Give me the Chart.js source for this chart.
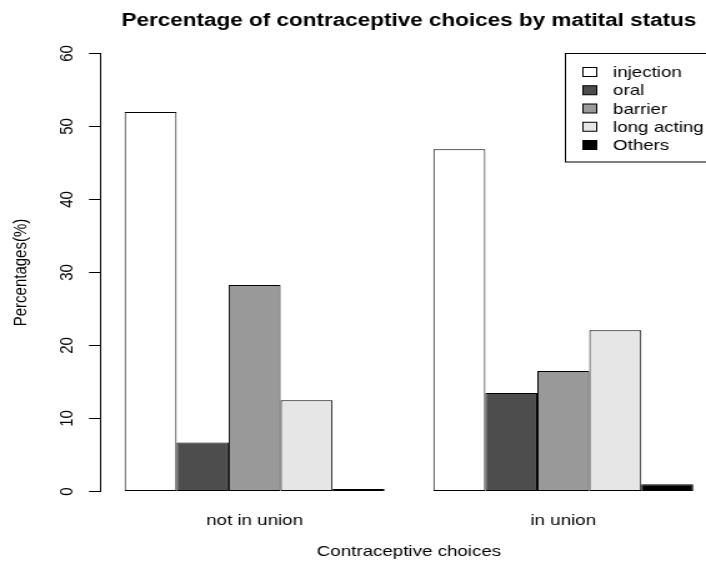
<!DOCTYPE html>
<html>
<head>
<meta charset="utf-8">
<script src="https://cdn.jsdelivr.net/npm/chart.js@4"></script>
<style>
  html, body { margin: 0; padding: 0; background: #fff; overflow: hidden; }
  #wrap { width: 706px; height: 565px; overflow: hidden; position: relative; }
  #c { position: absolute; left: 0; top: 0; transform: scaleX(1.2496); transform-origin: 0 0; }
</style>
</head>
<body>
<div id="wrap"><canvas id="c" width="600" height="565"></canvas></div>
<script>
const categories = ['not in union', 'in union'];
const seriesNames = ['injection', 'oral', 'barrier', 'long acting', 'Others'];
const injection = [52.0, 46.9];
const oral = [6.7, 13.5];
const barrier = [28.3, 16.5];
const longActing = [12.5, 22.1];
const others = [0.35, 1.0];
const yTicks = [0, 10, 20, 30, 40, 50, 60];
const titleText = 'Percentage of contraceptive choices by matital status';
const xTitle = 'Contraceptive choices';
const yTitle = 'Percentages(%)';

const fills = ['#ffffff', '#4d4d4d', '#999999', '#e6e6e6', '#000000'];
const seriesValues = [injection, oral, barrier, longActing, others];
const FONT = '"Liberation Sans", Arial, Helvetica, sans-serif';

const datasets = seriesNames.map((n, i) => ({
  label: n,
  data: seriesValues[i],
  backgroundColor: fills[i],
  borderColor: '#000',
  borderWidth: 1,
  borderSkipped: false,
  barPercentage: 1.0,
  categoryPercentage: 0.842
}));

const textPlugin = {
  id: 'rtext',
  afterDraw(chart) {
    const ctx = chart.ctx;
    const ca = chart.chartArea;
    const ys = chart.scales.y;
    const xs = chart.scales.x;
    ctx.save();
    ctx.fillStyle = '#000';
    // title
    ctx.font = 'bold 18px ' + FONT;
    ctx.textAlign = 'center';
    ctx.textBaseline = 'alphabetic';
    const cx = (ca.left + ca.right) / 2;
    ctx.fillText(titleText, cx, 26);
    // y tick labels
    ctx.font = '15px ' + FONT;
    yTicks.forEach(v => {
      const y = ys.getPixelForValue(v);
      ctx.save();
      ctx.translate(53.6, y);
      ctx.rotate(-Math.PI / 2);
      ctx.textAlign = 'center';
      ctx.textBaseline = 'middle';
      ctx.fillText(String(v), 0, 0);
      ctx.restore();
    });
    // y title
    ctx.save();
    ctx.translate(16.8, (ca.top + ca.bottom) / 2);
    ctx.rotate(-Math.PI / 2);
    ctx.textAlign = 'center';
    ctx.textBaseline = 'middle';
    ctx.fillText(yTitle, 0, 0);
    ctx.restore();
    // x labels
    ctx.textAlign = 'center';
    ctx.textBaseline = 'alphabetic';
    categories.forEach((c, i) => {
      ctx.fillText(c, xs.getPixelForValue(i), 525);
    });
    // x title
    ctx.fillText(xTitle, cx, 556);
    // legend
    const bx = 452.5, by = 53.5, bw = 574.3 - 452.5, bh = 162 - 53.5;
    ctx.strokeStyle = '#000';
    ctx.lineWidth = 1;
    ctx.strokeRect(bx, by, bw, bh);
    ctx.textAlign = 'left';
    ctx.textBaseline = 'middle';
    chart.data.datasets.forEach((ds, i) => {
      const yy = 72 + i * 18.25;
      ctx.fillStyle = ds.backgroundColor;
      ctx.fillRect(466.5, yy - 4.5, 11, 9);
      ctx.strokeRect(466.5, yy - 4.5, 11, 9);
      ctx.fillStyle = '#000';
      ctx.fillText(ds.label, 490.6, yy + 1);
    });
    ctx.restore();
  }
};

new Chart(document.getElementById('c'), {
  type: 'bar',
  data: { labels: categories, datasets: datasets },
  options: {
    responsive: false,
    animation: false,
    devicePixelRatio: 1,
    layout: { padding: { left: 0, right: 25.7, top: 53.5, bottom: 73.5 } },
    plugins: { legend: { display: false }, title: { display: false }, tooltip: { enabled: false } },
    scales: {
      x: { display: false },
      y: {
        min: 0, max: 60,
        ticks: { display: false, stepSize: 10 },
        grid: { drawOnChartArea: false, drawTicks: true, tickLength: 9, color: '#000' },
        border: { display: true, color: '#000', width: 1 },
        afterFit(scale) { scale.width = 80.2; }
      }
    }
  },
  plugins: [textPlugin]
});
</script>
</body>
</html>
